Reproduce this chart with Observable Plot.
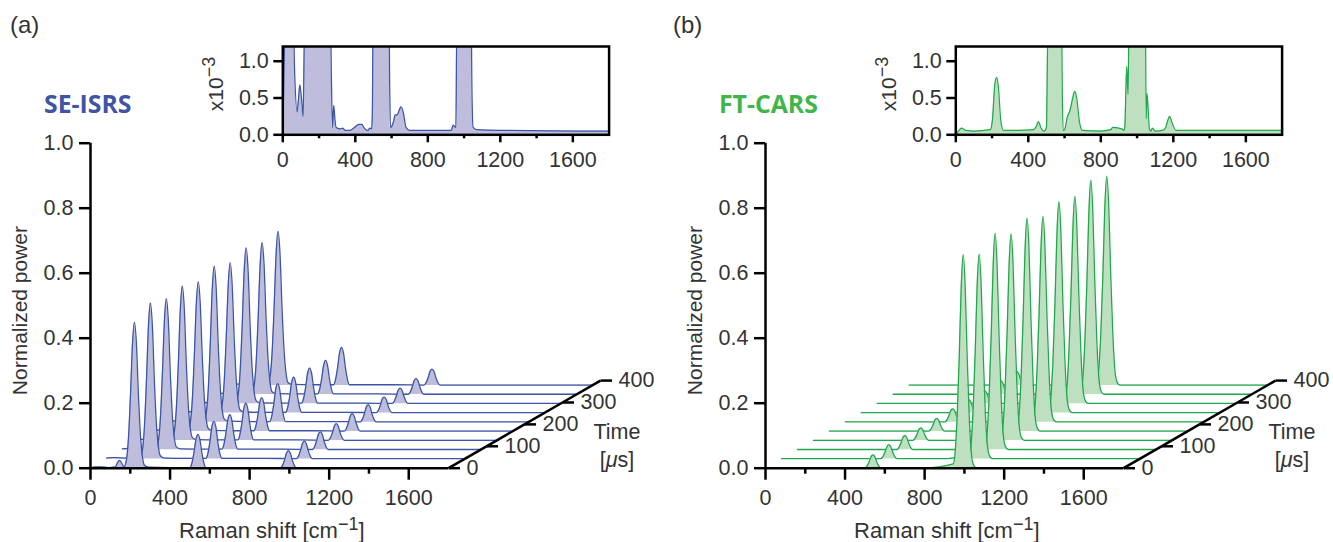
<!DOCTYPE html>
<html>
<head>
<meta charset="utf-8">
<script src="https://cdn.jsdelivr.net/npm/d3@7"></script>
<script src="https://cdn.jsdelivr.net/npm/@observablehq/plot@0.6"></script>
<style>
html,body{margin:0;padding:0;background:#fff;overflow:hidden}
#root{position:relative;width:1333px;height:542px;overflow:hidden;font-family:"Liberation Sans",Arial,sans-serif;color:#333}
#root svg{position:absolute;background:transparent;max-width:none}
.lb{position:absolute;font-size:21px;line-height:24px;white-space:nowrap}
.lb sup{font-size:18px;line-height:0;vertical-align:8px}
.ttl{position:absolute;font-family:"Open Sans",sans-serif;font-weight:700;font-size:24.8px;line-height:30px;white-space:nowrap}
</style>
</head>
<body>
<div id="root"></div>
<script>
// ---------- Data ----------
const delays = [0, 42, 84, 126, 168, 210, 252, 294, 336, 378];
const timeTicks = [0, 100, 200, 300, 400];
const xMajor = [0, 400, 800, 1200, 1600];
const xMinor = [200, 600, 1000, 1400];
const yMajor = [0, 0.2, 0.4, 0.6, 0.8, 1];
const insetYTicks = [0, 0.5, 1];

const isrsShift = [0,25,50,90,125,135,146,157,168,181,191,201,211,221,231,241,251,261,271,290,400,500,510,520,530,540,550,560,570,580,600,800,955,965,975,985,995,1005,1015,1025,1035,1060,1400,1800];
const isrs0 = [.001,.004,.004,.002,.004,.016,.024,.016,.004,.027,.094,.225,.382,.449,.382,.225,.103,.036,.009,.003,.002,.002,.016,.047,.088,.104,.088,.047,.016,.002,.002,.002,.001,.008,.024,.046,.054,.046,.024,.008,.001,.001,.001,.001];
const isrs1 = [.003,.004,.004,.003,.004,.012,.02,.012,.005,.029,.101,.24,.408,.48,.408,.24,.11,.038,.01,.003,.002,.002,.017,.052,.099,.116,.099,.052,.017,.002,.002,.002,.001,.008,.025,.047,.055,.047,.025,.008,.001,.001,.001,.001];
const isrs2 = [.003,.004,.004,.003,.004,.012,.02,.012,.005,.028,.098,.233,.395,.465,.395,.233,.107,.037,.009,.003,.002,.002,.016,.049,.092,.108,.092,.049,.016,.002,.002,.002,.001,.008,.025,.047,.055,.047,.025,.008,.001,.001,.001,.001];
const isrs3 = [.003,.004,.004,.003,.004,.012,.02,.012,.005,.029,.1,.238,.404,.475,.404,.238,.109,.038,.01,.003,.002,.002,.017,.052,.098,.115,.098,.052,.017,.002,.002,.002,.001,.008,.023,.044,.052,.044,.023,.008,.001,.001,.001,.001];
const isrs4 = [.003,.004,.004,.003,.004,.012,.02,.012,.005,.028,.097,.23,.391,.46,.391,.23,.106,.037,.009,.003,.002,.002,.015,.046,.088,.103,.088,.046,.015,.002,.002,.002,.001,.008,.025,.047,.055,.047,.025,.008,.001,.001,.001,.001];
const isrs5 = [.003,.004,.004,.003,.004,.012,.02,.012,.005,.029,.101,.24,.408,.48,.408,.24,.11,.038,.01,.003,.002,.002,.018,.054,.101,.119,.101,.054,.018,.002,.002,.002,.001,.008,.024,.046,.054,.046,.024,.008,.001,.001,.001,.001];
const isrs6 = [.003,.004,.004,.003,.004,.012,.02,.012,.005,.028,.097,.231,.393,.462,.393,.231,.106,.037,.009,.003,.002,.002,.017,.05,.094,.11,.094,.05,.017,.002,.002,.002,.001,.007,.022,.042,.049,.042,.022,.007,.001,.001,.001,.001];
const isrs7 = [.003,.004,.004,.003,.004,.012,.02,.012,.005,.029,.101,.24,.408,.48,.408,.24,.11,.038,.01,.003,.002,.002,.017,.05,.094,.11,.094,.05,.017,.002,.002,.002,.001,.007,.022,.041,.048,.041,.022,.007,.001,.001,.001,.001];
const isrs8 = [.003,.004,.004,.003,.004,.012,.02,.012,.005,.028,.098,.234,.398,.468,.398,.234,.108,.037,.009,.003,.002,.002,.016,.047,.089,.105,.089,.047,.016,.002,.002,.002,.001,.007,.022,.042,.049,.042,.022,.007,.001,.001,.001,.001];
const isrs9 = [.003,.004,.004,.003,.004,.012,.02,.012,.005,.028,.1,.237,.403,.474,.403,.237,.109,.038,.009,.003,.002,.002,.018,.053,.099,.117,.099,.053,.018,.002,.002,.002,.001,.008,.023,.043,.05,.043,.023,.008,.001,.001,.001,.001];

const carsShift = [0,200,400,500,510,520,530,540,550,560,570,580,600,800,944,954,964,974,984,994,1004,1014,1024,1034,1044,1060,1400,1800];
const cars0 = [.001,.001,.001,.001,.006,.018,.035,.041,.035,.018,.006,.001,.001,.001,.013,.053,.164,.342,.558,.657,.558,.342,.164,.053,.013,.001,.001,.001];
const cars1 = [.001,.001,.001,.001,.007,.02,.037,.044,.037,.02,.007,.001,.001,.001,.013,.05,.158,.328,.536,.63,.536,.328,.158,.05,.013,.001,.001,.001];
const cars2 = [.001,.001,.001,.001,.007,.02,.037,.044,.037,.02,.007,.001,.001,.001,.013,.053,.167,.346,.566,.666,.566,.346,.167,.053,.013,.001,.001,.001];
const cars3 = [.001,.001,.001,.001,.006,.018,.033,.039,.033,.018,.006,.001,.001,.001,.013,.051,.159,.331,.541,.636,.541,.331,.159,.051,.013,.001,.001,.001];
const cars4 = [.001,.001,.001,.001,.006,.018,.034,.04,.034,.018,.006,.001,.001,.001,.013,.052,.164,.341,.558,.656,.558,.341,.164,.052,.013,.001,.001,.001];
const cars5 = [.001,.001,.001,.001,.006,.018,.035,.041,.035,.018,.006,.001,.001,.001,.013,.051,.158,.329,.538,.633,.538,.329,.158,.051,.013,.001,.001,.001];
const cars6 = [.001,.001,.001,.001,.006,.018,.035,.041,.035,.018,.006,.001,.001,.001,.013,.052,.163,.338,.553,.65,.553,.338,.163,.052,.013,.001,.001,.001];
const cars7 = [.001,.001,.001,.001,.006,.018,.034,.04,.034,.018,.006,.001,.001,.001,.013,.051,.16,.332,.542,.638,.542,.332,.16,.051,.013,.001,.001,.001];
const cars8 = [.001,.001,.001,.001,.006,.019,.037,.043,.037,.019,.006,.001,.001,.001,.013,.053,.165,.343,.561,.66,.561,.343,.165,.053,.013,.001,.001,.001];
const cars9 = [.001,.001,.001,.001,.006,.019,.037,.043,.037,.019,.006,.001,.001,.001,.013,.052,.161,.335,.547,.644,.547,.335,.161,.052,.013,.001,.001,.001];

// Inset spectra (units of 10^-3; values above 1.2 run off the frame)
const insetAShift = [0,6,15,57,66,79,87,94,103,112,121,130,263,268,274,281,288,294,320,329,345,370,395,420,435,450,465,470,480,490,494,498,586,590,594,610,620,630,652,665,680,700,900,930,939,955,960,1039,1044,1050,1070,1200,1800];
const insetAValue = [0,.8,1.6,1.6,.8,.31,.5,.68,.5,.25,1.6,1.6,1.6,.8,.1,.4,.2,.1,.08,.09,.06,.06,.1,.14,.14,.09,.06,.06,.09,.08,.3,1.6,1.6,.6,.1,.17,.27,.27,.38,.3,.1,.06,.06,.06,.13,.1,1.6,1.6,.5,.1,.07,.06,.05];
const insetBShift = [0,18,31,55,100,190,202,215,226,235,248,263,340,430,445,456,469,487,500,509,583,588,592,600,616,630,643,656,667,682,698,800,855,866,900,915,928,932,943,950,956,1046,1050,1055,1068,1075,1085,1100,1140,1158,1170,1180,1192,1215,1800];
const insetBValue = [0,.06,.09,.06,.05,.07,.2,.68,.78,.65,.2,.06,.06,.07,.12,.18,.1,.05,.1,1.6,1.6,.5,.06,.07,.25,.33,.48,.59,.5,.18,.06,.05,.07,.1,.09,.08,.06,.1,.93,.55,1.6,1.6,.22,.56,.08,.05,.09,.05,.06,.1,.2,.25,.17,.06,.06];

// ---------- Drawing ----------
const root = document.getElementById("root");
const INK = "#333";
const perUsX = 1.91, perUsY = 0.000674;   // depth axis projection (per µs)

function sliceRows(shift, values, t) {
  return shift.map((s, i) => ({sx: s + t * perUsX, base: t * perUsY, top: values[i] + t * perUsY}));
}

function mainPlot(left, shift, slices, line, fill) {
  const marks = [];
  for (let i = slices.length - 1; i >= 0; i--) {
    const rows = sliceRows(shift, slices[i], delays[i]);
    marks.push(Plot.areaY(rows, {x: "sx", y1: "base", y2: "top", fill, curve: "monotone-x"}));
    marks.push(Plot.lineY(rows, {x: "sx", y: "top", stroke: line, strokeWidth: 1.3, curve: "monotone-x"}));
  }
  const depth = timeTicks.map(t => ({t, x: 1800 + t * perUsX, y: t * perUsY}));
  const ends = depth.slice(0, -1).map((d, i) => ({x1: d.x, y1: d.y, x2: depth[i + 1].x, y2: depth[i + 1].y}));
  marks.push(
    Plot.link(ends, {x1: "x1", y1: "y1", x2: "x2", y2: "y2", stroke: "#000", strokeWidth: 2.5}),
    Plot.link(depth, {x1: "x", y1: "y", x2: d => d.x + 58, y2: "y", stroke: "#000", strokeWidth: 2.5}),
    Plot.text(depth, {x: "x", y: "y", text: d => String(d.t), textAnchor: "start", dx: 18, fontSize: 21.5, fill: INK}),
    Plot.ruleX([0], {y1: 0, y2: 1, stroke: "#000", strokeWidth: 2.5}),
    Plot.ruleY([0], {x1: 0, x2: 1800, stroke: "#000", strokeWidth: 2.5}),
    Plot.axisY({ticks: yMajor, tickSize: 11, tickPadding: 6, tickFormat: d3.format(".1f"), stroke: "#000", strokeWidth: 2.5, fill: INK, fontSize: 21.5, label: null}),
    Plot.axisX({ticks: xMajor, tickSize: 12, tickPadding: 10, tickFormat: d => String(d), stroke: "#000", strokeWidth: 2.5, fill: INK, fontSize: 21.5, label: null}),
    Plot.axisX({ticks: xMinor, tickSize: 6, tickFormat: () => "", stroke: "#000", strokeWidth: 2.5, label: null}),
    Plot.text(["Normalized power"], {x: () => 0, y: () => 0.485, dx: -70, rotate: -90, fontSize: 21, fill: INK})
  );
  const svg = Plot.plot({
    width: 656, height: 542,
    marginLeft: 90, marginRight: 0, marginTop: 142.7, marginBottom: 74.3,
    style: {fontFamily: '"Liberation Sans", Arial, sans-serif', background: "transparent", overflow: "visible"},
    x: {domain: [0, 566 / 0.1989], axis: null},
    y: {domain: [0, 1], axis: null},
    marks
  });
  svg.style.left = left + "px";
  svg.style.top = "0px";
  root.appendChild(svg);
}

function insetPlot(left, shift, value, line, fill) {
  const rows = shift.map((s, i) => ({s, v: value[i]}));
  const svg = Plot.plot({
    width: 392, height: 145,
    marginLeft: 52.3, marginRight: 13.4, marginTop: 16, marginBottom: 40.7,
    style: {fontFamily: '"Liberation Sans", Arial, sans-serif', background: "transparent", overflow: "visible"},
    x: {domain: [0, 1800], axis: null},
    y: {domain: [0, 1.2], axis: null},
    marks: [
      Plot.areaY(rows, {x: "s", y1: () => 0, y2: "v", fill, curve: "monotone-x", clip: true}),
      Plot.lineY(rows, {x: "s", y: "v", stroke: line, strokeWidth: 1.25, curve: "monotone-x", clip: true}),
      Plot.frame({stroke: "#000", strokeWidth: 2.5}),
      Plot.axisY({ticks: insetYTicks, tickSize: 9, tickPadding: 5, tickFormat: d3.format(".1f"), stroke: "#000", strokeWidth: 2.5, fill: INK, fontSize: 21.5, label: null}),
      Plot.axisX({ticks: xMajor, tickSize: 8, tickPadding: 9, tickFormat: d => String(d), stroke: "#000", strokeWidth: 2.5, fill: INK, fontSize: 21.5, label: null}),
      Plot.axisX({ticks: xMinor, tickSize: 4, tickFormat: () => "", stroke: "#000", strokeWidth: 2.5, label: null})
    ]
  });
  svg.style.left = left + "px";
  svg.style.top = "30px";
  root.appendChild(svg);
}

function label(html, css, cls = "lb") {
  const d = document.createElement("div");
  d.className = cls;
  d.innerHTML = html;
  d.style.cssText = css;
  root.appendChild(d);
}

function panel(off, tag, title, color) {
  label(tag, `left:${10 + off - (off ? 12 : 0)}px;top:13px;font-size:24px`);
  label(title, `left:${44 + off}px;top:88px;color:${color}`, "ttl");
  label("Raman shift [cm<sup>&minus;1</sup>]", `left:${179 + off}px;top:519px;font-size:22px`);
  label("Time", `left:${617 + off}px;top:420px;transform:translateX(-50%);font-size:21.5px`);
  label("[<i>&mu;</i>s]", `left:${617 + off}px;top:448px;transform:translateX(-50%);font-size:21.5px`);
  label("x10<sup>&minus;3</sup>", `left:${216 + off - (off ? 2 : 0)}px;top:84px;transform:translate(-50%,-50%) rotate(-90deg)`);
}

const LINE_A = "#3c55a5", FILL_A = "#bfbddc", LINE_B = "#20a84c", FILL_B = "#bfe0c0";

mainPlot(0, isrsShift, [isrs0,isrs1,isrs2,isrs3,isrs4,isrs5,isrs6,isrs7,isrs8,isrs9], LINE_A, FILL_A);
mainPlot(675, carsShift, [cars0,cars1,cars2,cars3,cars4,cars5,cars6,cars7,cars8,cars9], LINE_B, FILL_B);
insetPlot(230, insetAShift, insetAValue, LINE_A, FILL_A);
insetPlot(903, insetBShift, insetBValue, LINE_B, FILL_B);
panel(0, "(a)", "SE-ISRS", "#4054a4");
panel(675, "(b)", "FT-CARS", "#3fb54a");
</script>
</body>
</html>
